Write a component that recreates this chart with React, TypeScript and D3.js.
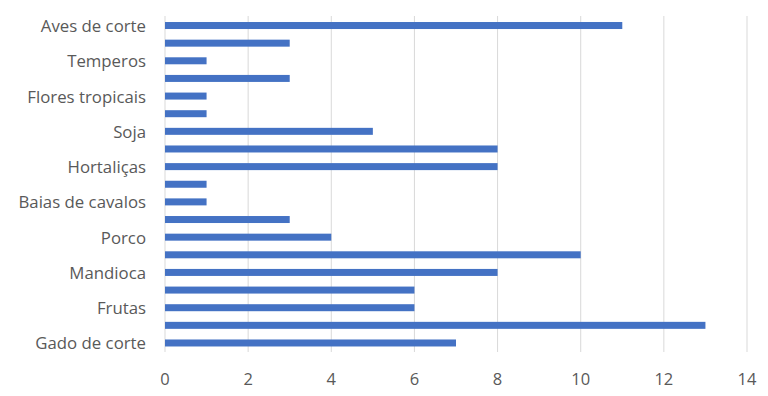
import React from "react";
import * as d3 from "d3";

// bottom to top order (as in the chart); hidden labels are unlabeled categories
const categories: string[] = [
  "Gado de corte", "", "Frutas", "", "Mandioca", "", "Porco", "", "Baias de cavalos", "",
  "Hortaliças", "", "Soja", "", "Flores tropicais", "", "Temperos", "", "Aves de corte",
];
const values: number[] = [7, 13, 6, 6, 8, 10, 4, 3, 1, 1, 8, 8, 5, 1, 1, 3, 1, 3, 11];
const xTicks: number[] = [0, 2, 4, 6, 8, 10, 12, 14];

const W = 768;
const H = 396;
const left = 165;
const right = 747;
const top = 16.7;
const bottom = 351.8;

export default function App() {
  const x = d3.scaleLinear().domain([0, 14]).range([left, right]);
  const idx = categories.map((_, i) => i);
  const y = d3
    .scaleBand<number>()
    .domain(idx.slice().reverse())
    .range([top, bottom])
    .paddingInner(0.6)
    .paddingOuter(0.3);
  const bh = 7;
  const font = "'Open Sans', 'Noto Sans', sans-serif";
  return (
    <svg
      width={W}
      height={H}
      style={{ position: "absolute", left: 0, top: 0, background: "#fff" }}
    >
      {xTicks.map((t) => (
        <line
          key={"g" + t}
          x1={x(t)}
          x2={x(t)}
          y1={16}
          y2={352}
          stroke="#d9d9d9"
          strokeWidth={1}
        />
      ))}
      {idx.map((i) => {
        const cy = (y(i) as number) + y.bandwidth() / 2;
        return (
          <rect
            key={"b" + i}
            x={x(0)}
            y={cy - bh / 2}
            width={x(values[i]) - x(0)}
            height={bh}
            fill="#4472C4"
          />
        );
      })}
      {idx.map((i) => {
        if (!categories[i]) return null;
        const cy = (y(i) as number) + y.bandwidth() / 2;
        return (
          <text
            key={"l" + i}
            x={146}
            y={cy}
            textAnchor="end"
            dominantBaseline="central"
            fontFamily={font}
            fontSize={16.8}
            fill="#595959"
          >
            {categories[i]}
          </text>
        );
      })}
      {xTicks.map((t) => (
        <text
          key={"t" + t}
          x={x(t)}
          y={378}
          textAnchor="middle"
          dominantBaseline="central"
          fontFamily={font}
          fontSize={16.5}
          fill="#595959"
        >
          {t}
        </text>
      ))}
    </svg>
  );
}
